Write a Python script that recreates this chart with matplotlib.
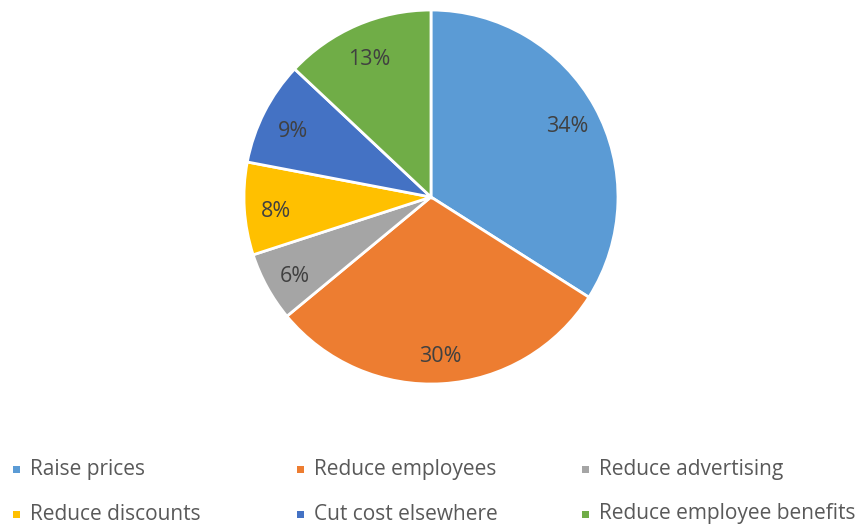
import matplotlib.pyplot as plt
from matplotlib.patches import Rectangle

categories = ["Raise prices", "Reduce employees", "Reduce advertising",
              "Reduce discounts", "Cut cost elsewhere", "Reduce employee benefits"]
shares = [34, 30, 6, 8, 9, 13]
colors = ["#5B9BD5", "#ED7D31", "#A5A5A5", "#FFC000", "#4472C4", "#70AD47"]

plt.rcParams['font.family'] = ['Open Sans', 'DejaVu Sans']
text_color = "#595959"

fig = plt.figure(figsize=(8.63, 5.27), dpi=100)
ax = fig.add_axes([0.2827, 0.2713, 0.4334, 0.7097])

wedges, texts, autotexts = ax.pie(
    shares, colors=colors, startangle=90, counterclock=False,
    autopct="%d%%", pctdistance=0.83,
    wedgeprops=dict(edgecolor="white", linewidth=2),
    textprops=dict(color="#404040", fontsize=15.5))
# nudge the percentage labels down a little
for t in autotexts:
    px, py = t.get_position()
    t.set_position((px, py - 0.024))
ax.set_xlim(-1, 1)
ax.set_ylim(-1, 1)
ax.set_aspect('equal')

# legend laid out row by row, three entries per row
col_x = [13, 297, 582]
row_y = [469, 514]
W, H = 863, 527
for i, (name, c) in enumerate(zip(categories, colors)):
    x = col_x[i % 3]
    y = row_y[i // 3]
    fig.patches.append(Rectangle((x / W, 1 - (y + 3.5) / H), 7 / W, 7 / H,
                                 transform=fig.transFigure, facecolor=c,
                                 edgecolor='none'))
    fig.text((x + 17) / W, 1 - y / H, name, color=text_color, fontsize=15,
             va='center', ha='left')

fig.savefig("out.png", dpi=100)
